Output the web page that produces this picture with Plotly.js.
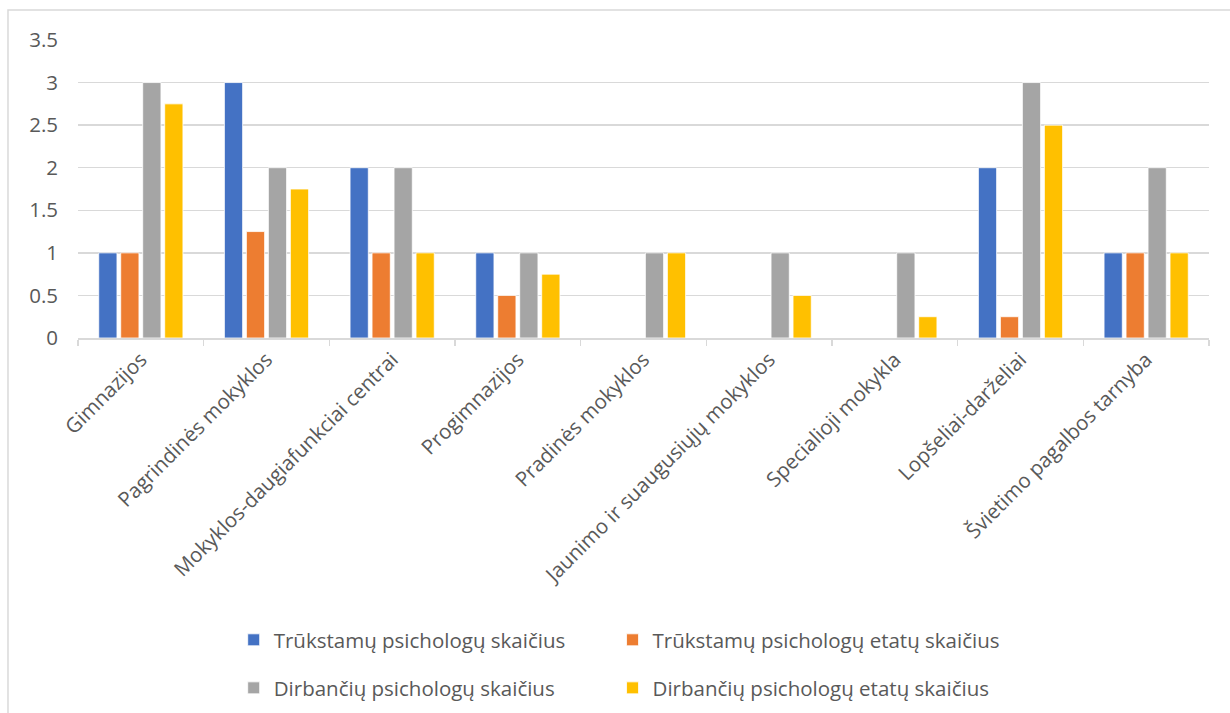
<!DOCTYPE html>
<html>
<head>
<meta charset="utf-8">
<script src="https://cdn.plot.ly/plotly-3.0.1.min.js"></script>
<style>html,body{margin:0;padding:0;background:#fff;}#chart{width:1230px;height:713px;}</style>
</head>
<body>
<div id="chart"></div>
<script>
const categories = ["Gimnazijos","Pagrindinės mokyklos","Mokyklos-daugiafunkciai centrai","Progimnazijos","Pradinės mokyklos","Jaunimo ir suaugusiųjų mokyklos","Specialioji mokykla","Lopšeliai-darželiai","Švietimo pagalbos tarnyba"];
const seriesNames = ["Trūkstamų psichologų skaičius","Trūkstamų psichologų etatų skaičius","Dirbančių psichologų skaičius","Dirbančių psichologų etatų skaičius"];
const trukstamuPsichologu = [1,3,2,1,0,0,0,2,1];
const trukstamuEtatu = [1,1.25,1,0.5,0,0,0,0.25,1];
const dirbanciuPsichologu = [3,2,2,1,1,1,1,3,2];
const dirbanciuEtatu = [2.75,1.75,1,0.75,1,0.5,0.25,2.5,1];
const yTicks = [0,0.5,1,1.5,2,2.5,3,3.5];
const colors = ["#4472c4","#ed7d31","#a5a5a5","#ffc000"];

const seriesValues = [trukstamuPsichologu, trukstamuEtatu, dirbanciuPsichologu, dirbanciuEtatu];
const legendIds = ["legend","legend2","legend3","legend4"];
const traces = seriesValues.map((vals,i)=>({
  type:"bar", x:categories, y:vals, name:seriesNames[i],
  marker:{color:colors[i], line:{color:"#ffffff", width:0.8}},
  legend:legendIds[i], showlegend:true, hoverinfo:"y"
}));

const font = {family:"Open Sans, sans-serif", size:20.5, color:"#595959"};
const legendPos = [[0.19,0.1024],[0.498,0.1024],[0.19,0.035],[0.498,0.035]];
const layout = {
  width:1230, height:713,
  margin:{l:78, r:21, t:40, b:375},
  paper_bgcolor:"#ffffff", plot_bgcolor:"#ffffff",
  showlegend:true,
  barmode:"group", bargap:0.3, bargroupgap:0.17,
  font:font,
  xaxis:{
    type:"category", tickangle:-45, tickfont:font,
    showline:true, linecolor:"#d9d9d9", linewidth:1.5,
    ticks:"outside", tickson:"boundaries", ticklen:6, tickcolor:"#d9d9d9", tickwidth:1.5,
    showgrid:false, automargin:false
  },
  yaxis:{
    range:[0,3.5], tickvals:yTicks, ticktext:yTicks.map(String), tickfont:font,
    showgrid:true, gridcolor:"#d9d9d9", gridwidth:1.5, zeroline:false,
    ticklabelstandoff:19, automargin:false
  },
  shapes:[{
    type:"rect", xref:"paper", yref:"paper", x0:-0.0619, x1:1.2, y0:-1.3, y1:1.1007,
    line:{color:"#d9d9d9", width:1.5}, fillcolor:"rgba(0,0,0,0)", layer:"below"
  }]
};
legendIds.forEach((id,i)=>{
  layout[id] = {
    visible:true, orientation:"h", xref:"container", yref:"container",
    x:legendPos[i][0], y:legendPos[i][1], xanchor:"left", yanchor:"middle",
    font:font, itemwidth:30, bgcolor:"rgba(0,0,0,0)"
  };
});
Plotly.newPlot("chart", traces, layout, {displayModeBar:false, staticPlot:true});
</script>
</body>
</html>
